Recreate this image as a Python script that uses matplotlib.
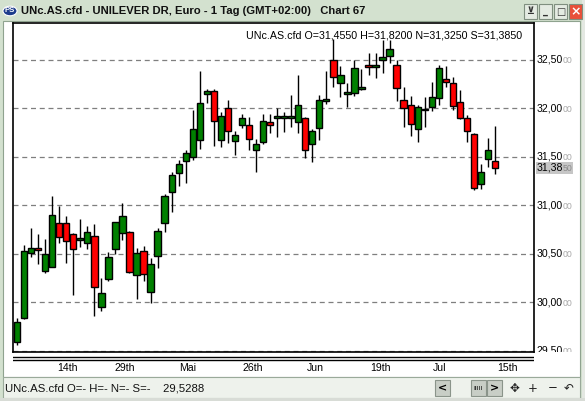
import matplotlib.pyplot as plt
from matplotlib.patches import Rectangle, Circle
from matplotlib.transforms import Bbox, TransformedBbox, blended_transform_factory

W, H = 585, 401

# daily candles
opens = [29.594, 29.835, 30.510, 30.557, 30.326, 30.367, 30.814, 30.814, 30.701, 30.639,
         30.614, 30.683, 29.948, 30.237, 30.546, 30.711, 30.722, 30.278, 30.526, 30.103,
         30.480, 30.814, 31.140, 31.330, 31.457, 31.501, 31.670, 32.144, 32.175, 31.670,
         32.000, 31.660, 31.825, 31.825, 31.567, 31.649, 31.856, 31.897, 31.897, 31.897,
         31.856, 31.897, 31.629, 31.794, 32.075, 32.495, 32.264, 32.150, 32.155, 32.202,
         32.446, 32.426, 32.500, 32.539, 32.446, 32.082, 32.037, 31.784, 31.980, 32.010,
         32.109, 32.305, 32.258, 32.062, 31.897, 31.732, 31.216, 31.474, 31.455]
highs = [29.835, 30.590, 30.763, 30.704, 30.653, 31.096, 30.993, 30.890, 30.710, 30.856,
         30.787, 30.807, 30.247, 30.520, 30.830, 31.020, 30.730, 30.557, 30.577, 30.454,
         30.766, 31.120, 31.340, 31.470, 31.570, 31.982, 32.388, 32.196, 32.196, 31.965,
         32.086, 31.766, 31.938, 31.907, 31.680, 31.938, 31.938, 32.006, 31.965, 32.134,
         32.343, 31.910, 31.784, 32.137, 32.381, 32.711, 32.440, 32.258, 32.500, 32.402,
         32.570, 32.570, 32.704, 32.704, 32.500, 32.216, 32.127, 32.030, 32.120, 32.268,
         32.446, 32.436, 32.320, 32.189, 31.930, 31.742, 31.426, 31.690, 31.820]
lows = [29.560, 29.830, 30.464, 30.395, 30.305, 30.360, 30.608, 30.408, 30.075, 30.573,
        30.546, 29.862, 29.913, 30.223, 30.495, 30.642, 30.305, 30.031, 30.223, 29.996,
        30.350, 30.728, 30.928, 31.200, 31.233, 31.467, 31.577, 32.058, 31.614, 31.604,
        31.639, 31.522, 31.794, 31.570, 31.346, 31.629, 31.742, 31.707, 31.759, 31.810,
        31.742, 31.485, 31.450, 31.673, 32.044, 32.216, 32.120, 32.016, 32.127, 32.189,
        32.343, 32.310, 32.360, 32.464, 32.078, 31.810, 31.714, 31.656, 31.810, 31.972,
        32.034, 32.223, 31.982, 31.890, 31.650, 31.158, 31.165, 31.398, 31.325]
closes = [29.800, 30.532, 30.557, 30.536, 30.495, 30.897, 30.670, 30.629, 30.546, 30.666,
          30.722, 30.155, 30.093, 30.464, 30.825, 30.890, 30.316, 30.505, 30.289, 30.392,
          30.732, 31.096, 31.309, 31.423, 31.536, 31.783, 32.052, 32.175, 31.866, 31.924,
          31.763, 31.720, 31.897, 31.680, 31.629, 31.866, 31.825, 31.918, 31.918, 31.918,
          32.031, 31.567, 31.763, 32.082, 32.096, 32.320, 32.340, 32.165, 32.412, 32.223,
          32.426, 32.446, 32.525, 32.608, 32.206, 32.000, 31.835, 32.010, 31.993, 32.120,
          32.412, 32.268, 32.024, 31.897, 31.763, 31.175, 31.346, 31.570, 31.385]

date_labels = ["14th", "29th", "Mai", "26th", "Jun", "19th", "Jul", "15th"]
date_pos = [7.16, 15.39, 24.28, 33.57, 42.39, 51.71, 60.11, 69.74]
price_ticks = [29.5, 30.0, 30.5, 31.0, 31.5, 32.0, 32.5]

FONT = "Liberation Sans"


def fx(x):
    return x / W


def fy(y):
    return 1 - y / H


def box(x0, y0, x1, y1, **kw):
    r = Rectangle((fx(x0), fy(y1)), fx(x1 - x0), (y1 - y0) / H,
                  transform=fig.transFigure, **kw)
    fig.add_artist(r)
    return r


fig = plt.figure(figsize=(W / 100, H / 100), dpi=100)
fig.patch.set_facecolor("#d3e1cf")

# window chrome
box(582, 0, 585, 401, facecolor="#e4e8e2", edgecolor="none", zorder=-5)
box(3, 21, 580, 377, facecolor="white", edgecolor="#8fa38f", lw=0.8, zorder=-4)
box(3, 377, 580, 398, facecolor="#eef2ec", edgecolor="#9aaa9a", lw=0.8, zorder=-4)
box(0, 398, 585, 401, facecolor="#d8dcd6", edgecolor="none", zorder=-4)

fig.add_artist(Circle((fx(10), fy(11)), 7 / W, transform=fig.transFigure,
                      facecolor="#1d3c8c", edgecolor="white", lw=0.8))
fig.text(fx(10), fy(11), "PS", color="white", fontsize=5.5, fontweight="bold",
         ha="center", va="center", family=FONT)
fig.text(fx(21), fy(11.5), "UNc.AS.cfd - UNILEVER DR, Euro - 1 Tag (GMT+02:00)   Chart 67",
         fontsize=8.1, fontweight="bold", color="#111111", ha="left", va="center", family=FONT)

for i, sym in enumerate(["\u22bb", "_", "\u25a1", "\u00d7"]):
    x0 = 524 + i * 15
    red = sym == "\u00d7"
    box(x0, 4, x0 + 13, 19, facecolor="#e8503a" if red else "#e4ebe2",
        edgecolor="#7f8f7f", lw=0.8, zorder=2)
    fig.text(fx(x0 + 6.5), fy(11.5), sym, color="white" if red else "#333333",
             fontsize=9 if red else 7, fontweight="bold", ha="center", va="center",
             family="DejaVu Sans", zorder=3)

# main price panel
ax = fig.add_axes([fx(13), fy(352), fx(534 - 13), (352 - 23) / H])
x = list(range(len(opens)))
colors = ["#008000" if c >= o else "#ff0000" for o, c in zip(opens, closes)]
bottoms = [min(o, c) for o, c in zip(opens, closes)]
heights = [max(abs(c - o), 0.012) for o, c in zip(opens, closes)]
ax.vlines(x, lows, highs, color="black", lw=1, zorder=2)
ax.bar(x, heights, bottom=bottoms, width=0.9, color=colors, edgecolor="black",
       linewidth=1, zorder=3)
for v in price_ticks:
    ax.axhline(v, color="#7f7f7f", lw=0.9, ls=(0, (4, 3)), zorder=1)
ax.set_xlim(-0.57, 73.54)
ax.set_ylim(29.488, 32.879)
ax.set_xticks([])
ax.set_yticks([])
for s in ax.spines.values():
    s.set_linewidth(1.2)

ax.text(0.978, 0.978, "UNc.AS.cfd O=31,4550 H=31,8200 N=31,3250 S=31,3850",
        transform=ax.transAxes, ha="right", va="top", fontsize=7.7, family=FONT)

# price scale labels on the right
ytr = ax.get_yaxis_transform()
clip = TransformedBbox(Bbox.from_extents(0, fy(352), 1, 1), fig.transFigure)
for v in price_ticks:
    lab = f"{v:.2f}".replace(".", ",")
    t1 = fig.text((563 - 13) / 521, v, lab, transform=ytr, ha="right", va="center",
                  fontsize=7.6, family=FONT)
    t2 = fig.text((563 - 13) / 521, v - 0.01, "00", transform=ytr, ha="left",
                  va="center", fontsize=6.3, color="#a8a8a8", family=FONT)
    for t in (t1, t2):
        t.set_clip_box(clip)
        t.set_clip_on(True)

last = closes[-1]
btr = blended_transform_factory(fig.transFigure, ax.transData)
fig.add_artist(Rectangle((fx(536), last - 0.058), fx(37), 0.116, transform=btr,
                         facecolor="#c6c6c6", edgecolor="none", zorder=2))
last_lab = f"{last:.4f}".replace(".", ",")
fig.text((563 - 13) / 521, last, last_lab[:5], transform=ytr, ha="right", va="center",
         fontsize=7.6, family=FONT, zorder=3)
fig.text((563 - 13) / 521, last - 0.01, last_lab[5:], transform=ytr, ha="left",
         va="center", fontsize=6.3, color="#8a8a8a", family=FONT, zorder=3)

# date axis
dax = fig.add_axes([fx(13), fy(376), fx(534 - 13), (376 - 352) / H], sharex=ax)
dax.axis("off")
dax.axhline(0.79, color="black", lw=1)
dax.axhline(0.67, color="black", lw=1)
for p, lab in zip(date_pos, date_labels):
    dax.text(p, 0.33, lab, ha="center", va="center", fontsize=7.6, family=FONT)
dax.set_ylim(0, 1)

# status bar
fig.text(fx(5), fy(388.5), "UNc.AS.cfd O=- H=- N=- S=-    29,5288", fontsize=8.2,
         ha="left", va="center", family=FONT, color="#111111")
for x0, x1 in [(435, 450), (471, 486), (487, 502)]:
    box(x0, 380, x1, 396, facecolor="#c8cec6", edgecolor="#8a948a", lw=0.8, zorder=2)
fig.text(fx(442.5), fy(388), "<", fontsize=8, fontweight="bold", ha="center",
         va="center", family="DejaVu Sans", zorder=3)
fig.text(fx(478.5), fy(388), "IIIII", fontsize=4.5, ha="center", va="center",
         family="DejaVu Sans", zorder=3)
fig.text(fx(494.5), fy(388), ">", fontsize=8, fontweight="bold", ha="center",
         va="center", family="DejaVu Sans", zorder=3)
for xp, sym in [(514, "\u2725"), (533, "+"), (553, "\u2212"), (569, "\u21b6")]:
    fig.text(fx(xp), fy(388), sym, fontsize=8.5, ha="center", va="center",
             family="DejaVu Sans", color="#222222")

fig.savefig("out.png", dpi=100, facecolor=fig.get_facecolor())
